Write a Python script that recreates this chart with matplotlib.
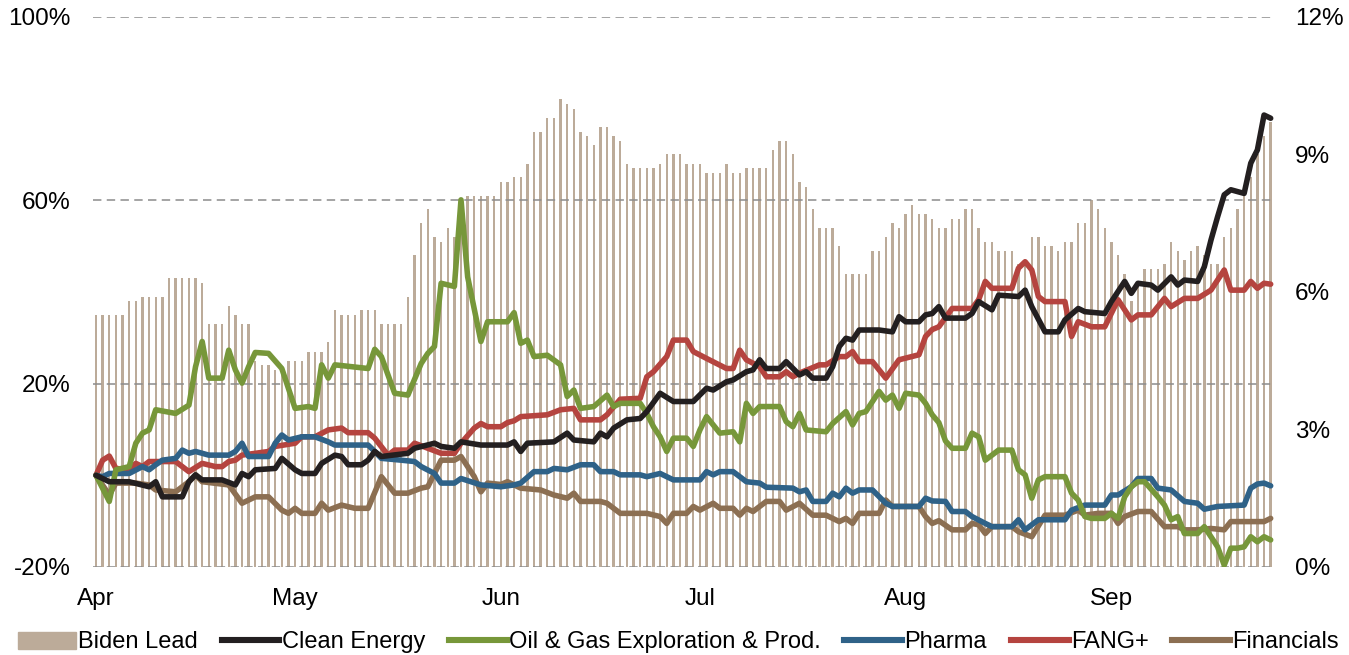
import matplotlib
matplotlib.use("Agg")
import matplotlib.pyplot as plt
import matplotlib.dates as mdates
from matplotlib.patches import Patch
from matplotlib.lines import Line2D
import pandas as pd

plt.rcParams["font.family"] = ["Liberation Sans", "DejaVu Sans"]

START = pd.Timestamp("2020-04-01")

# Biden lead in polls (right axis, %), one bar per calendar day from Apr 1
biden_lead = [
    5.5, 5.5, 5.5, 5.5, 5.5, 5.8, 5.8, 5.9, 5.9, 5.9, 5.9,
    6.3, 6.3, 6.3, 6.3, 6.3, 6.2, 5.3, 5.3, 5.3,
    5.7, 5.5, 5.3, 5.3, 4.5, 4.4, 4.4, 4.3, 4.3,
    4.5, 4.5, 4.5, 4.7, 4.7, 4.7,
    4.9, 5.6, 5.5, 5.5, 5.5, 5.6, 5.6, 5.6,
    5.3, 5.3, 5.3, 5.3,
    5.9, 6.8, 7.5, 7.8, 7.2, 7.1, 7.4, 7.2, 8.0,
    8.1, 8.1, 8.1, 8.1, 8.1, 8.4, 8.4, 8.5, 8.5, 8.8,
    9.5, 9.5, 9.8, 9.8, 10.2, 10.1, 10.0,
    9.5, 9.4, 9.2, 9.6, 9.6, 9.4, 9.3,
    8.8, 8.7, 8.7, 8.7, 8.7, 8.8,
    9.0, 9.0, 9.0, 8.8, 8.8, 8.8,
    8.6, 8.6, 8.6, 8.8, 8.6, 8.6,
    8.7, 8.7, 8.7, 8.7,
    9.1, 9.3, 9.3, 9.0, 8.4, 8.3, 7.8,
    7.4, 7.4, 7.4, 7.0, 6.4, 6.4, 6.4, 6.4,
    6.9, 6.9, 7.2, 7.5, 7.4, 7.7, 7.9,
    7.7, 7.7, 7.6, 7.4, 7.4, 7.6, 7.6,
    7.8, 7.8, 7.4, 7.1, 7.1, 6.9, 6.9, 6.9, 6.6, 6.6,
    7.2, 7.2, 7.0, 7.0, 6.9, 7.1, 7.1,
    7.5, 7.5, 8.0, 7.8, 7.4, 7.1, 6.8,
    6.4, 5.8, 6.1, 6.5, 6.5, 6.5, 6.6,
    7.1, 6.9, 6.7, 6.9, 7.0, 6.8, 6.6,
    6.6, 7.2, 7.4, 7.8, 8.1, 8.5, 9.0, 9.4, 9.7,
]

# Sector performance since Apr 1 (left axis, %): day offsets and values
clean_days = [0, 2, 5, 8, 9, 10, 13, 14, 15, 16, 19, 21, 22, 23, 24, 27, 28, 30, 31, 33,
              34, 36, 37, 38, 40, 41, 42, 43, 47, 48, 51, 52, 54, 55, 58, 62, 63, 64, 65, 69,
              71, 72, 75, 76, 77, 78, 80, 82, 83, 85, 87, 90, 92, 93, 95, 96, 98, 99, 100, 101,
              103, 104, 106, 107, 108, 110, 111, 112, 113, 114, 115, 118, 120, 121, 122, 124, 125, 126, 127, 128,
              131, 132, 133, 135, 136, 139, 140, 141, 143, 145, 146, 148, 149, 152, 153, 155, 156, 157, 159, 160,
              162, 163, 164, 166, 167, 168, 169, 170, 171, 173, 174, 175, 176, 177]
clean_vals = [0, -1.4, -1.4, -2.5, -1.4, -4.7, -4.7, -1.4, 0.1, -1.0, -1.0, -2.1, 0.4, -0.3, 1.2, 1.5, 3.7, 1.2, 0.4, 0.4,
              2.6, 4.4, 4.1, 2.3, 2.3, 3.3, 5.2, 4.1, 4.8, 5.9, 7.0, 6.3, 5.9, 7.3, 6.6, 6.6, 7.3, 5.2, 7.0, 7.3,
              9.2, 7.7, 7.3, 9.2, 8.4, 10.3, 12.1, 12.4, 13.9, 17.9, 16.1, 16.1, 19.0, 18.6, 20.4, 20.8, 22.6, 23.0, 25.2, 23.3,
              23.3, 24.8, 21.9, 22.6, 21.2, 21.2, 23.7, 28.1, 29.9, 29.5, 31.7, 31.7, 31.3, 34.6, 33.5, 33.5, 35.0, 35.3, 36.8, 34.3,
              34.3, 35.3, 37.9, 36.1, 39.3, 39.0, 40.4, 36.8, 31.3, 31.3, 33.9, 36.4, 35.7, 35.3, 37.9, 42.3, 39.7, 41.9, 41.5, 40.4,
              43.3, 41.5, 42.6, 42.3, 45.5, 51.3, 56.4, 61.2, 62.3, 61.5, 68.1, 71.0, 78.6, 77.9]

oil_days = [0, 2, 3, 5, 6, 7, 8, 9, 12, 14, 15, 16, 17, 19, 20, 21, 22, 23, 24, 26,
            28, 30, 32, 33, 34, 35, 36, 41, 42, 43, 45, 47, 49, 50, 51, 52, 54, 55, 56, 58,
            59, 62, 63, 64, 65, 66, 68, 70, 71, 72, 73, 75, 77, 78, 79, 82, 83, 84, 85, 86,
            87, 89, 90, 91, 92, 94, 96, 97, 98, 99, 100, 103, 104, 105, 106, 107, 110, 111, 113, 114,
            115, 116, 118, 119, 120, 121, 122, 124, 125, 126, 127, 128, 129, 131, 132, 133, 134, 136, 138, 139,
            140, 141, 142, 143, 146, 147, 148, 149, 150, 152, 153, 154, 155, 156, 157, 158, 160, 161, 162, 163,
            164, 166, 167, 169, 170, 171, 172, 173, 174, 175, 176, 177]
oil_vals = [0, -5.7, 1.2, 1.9, 7.0, 9.2, 9.9, 14.3, 13.5, 15.3, 23.7, 29.2, 21.2, 21.2, 27.3, 23.0, 20.1, 23.7, 26.8, 26.6,
            23.3, 14.6, 15.0, 14.6, 24.1, 21.2, 24.1, 23.3, 27.5, 25.9, 17.9, 17.5, 24.4, 26.6, 28.1, 41.9, 41.2, 60.1, 43.3, 29.2,
            33.5, 33.5, 35.5, 28.8, 29.5, 25.9, 26.2, 24.1, 17.2, 18.6, 14.6, 15.0, 17.5, 15.0, 15.7, 15.7, 13.5, 10.6, 8.4, 5.2,
            8.1, 8.1, 6.3, 9.9, 12.8, 9.2, 9.5, 7.3, 15.7, 13.5, 15.0, 15.0, 11.7, 10.6, 13.5, 9.9, 9.5, 11.3, 13.9, 11.0,
            13.5, 13.9, 18.3, 16.4, 17.5, 14.6, 17.9, 17.5, 15.7, 13.2, 11.5, 7.5, 5.9, 5.9, 9.2, 8.4, 3.3, 5.5, 5.5, 1.2,
            0.1, -5.0, -1.0, -0.3, -0.3, -3.9, -5.4, -9.0, -9.4, -9.4, -8.3, -9.4, -4.7, -2.5, -1.4, -1.4, -4.7, -6.5, -9.7, -9.0,
            -12.7, -12.7, -11.2, -15.6, -19.6, -15.9, -15.9, -15.6, -13.4, -14.5, -13.4, -14.1]

pharma_days = [0, 1, 2, 5, 7, 8, 9, 10, 12, 13, 14, 15, 17, 20, 21, 22, 23, 26, 27, 28,
               29, 31, 33, 35, 36, 41, 42, 43, 46, 48, 49, 51, 52, 54, 55, 58, 61, 63, 64, 66,
               68, 69, 71, 73, 75, 76, 78, 79, 82, 83, 85, 87, 91, 92, 93, 94, 96, 98, 100, 101,
               105, 106, 107, 108, 110, 111, 112, 113, 114, 115, 117, 119, 120, 124, 125, 126, 128, 129, 131, 132,
               134, 135, 138, 139, 140, 142, 146, 147, 149, 152, 153, 154, 156, 157, 159, 160, 162, 164, 166, 167,
               169, 173, 174, 175, 176, 177]
pharma_vals = [0, -0.3, 0.4, 0.4, 1.9, 1.2, 2.3, 3.3, 3.7, 5.5, 4.8, 5.2, 4.4, 4.4, 5.2, 7.0, 4.1, 4.1, 7.0, 8.8,
               7.7, 8.4, 8.4, 7.3, 6.6, 6.6, 5.2, 3.7, 3.3, 3.0, 1.9, 0.4, -1.7, -1.7, -0.7, -2.1, -2.5, -2.1, -1.7, 0.8,
               0.8, 1.5, 1.2, 2.3, 2.3, 0.8, 0.8, 0.1, 0.1, -0.3, 0.4, -1.0, -1.0, 0.8, 0.1, 0.8, 0.8, -1.4, -1.7, -2.6,
               -2.8, -3.6, -3.2, -5.7, -5.7, -3.9, -4.7, -2.8, -3.9, -3.2, -3.2, -6.1, -6.8, -6.8, -5.0, -5.6, -5.7, -7.9, -7.9, -9.0,
               -10.5, -11.2, -11.2, -9.7, -11.9, -9.7, -9.7, -7.6, -6.5, -6.5, -4.3, -4.3, -2.5, -0.7, -0.7, -2.8, -3.2, -5.7, -6.1, -7.4,
               -6.8, -6.5, -2.8, -1.9, -1.7, -2.3]

fang_days = [0, 1, 2, 3, 5, 6, 7, 8, 12, 14, 16, 18, 19, 20, 21, 22, 26, 27, 30, 31,
             33, 35, 37, 38, 41, 42, 44, 45, 47, 48, 50, 52, 54, 55, 57, 58, 59, 61, 62, 63,
             64, 68, 70, 72, 73, 76, 77, 79, 82, 83, 84, 86, 87, 89, 90, 92, 95, 96, 97, 98,
             100, 101, 103, 104, 105, 106, 109, 110, 112, 113, 114, 115, 117, 119, 121, 124, 125, 126, 127, 129,
             132, 133, 134, 135, 138, 139, 140, 141, 142, 143, 146, 147, 148, 150, 152, 154, 156, 157, 159, 161,
             162, 164, 166, 168, 169, 170, 171, 173, 174, 175, 176, 177]
fang_vals = [0, 3.3, 4.2, 1.5, 1.2, 2.6, 1.9, 3.0, 3.0, 0.8, 2.6, 1.9, 1.9, 3.0, 3.3, 4.4, 5.2, 6.3, 7.0, 8.4,
             8.4, 9.9, 10.3, 9.3, 9.3, 8.1, 4.4, 5.5, 5.5, 7.0, 5.9, 4.8, 4.8, 7.0, 10.3, 11.3, 10.6, 10.6, 11.5, 11.9,
             12.8, 13.2, 14.3, 14.6, 12.1, 12.1, 13.2, 16.6, 16.8, 21.5, 22.6, 25.9, 29.5, 29.5, 27.0, 25.5, 23.3, 23.3, 27.3, 25.2,
             23.7, 21.5, 21.5, 22.6, 21.5, 22.3, 24.1, 24.1, 25.9, 25.9, 27.0, 24.8, 24.8, 21.2, 25.2, 26.3, 30.3, 31.8, 32.4, 36.4,
             36.4, 38.3, 42.3, 40.8, 40.8, 45.2, 46.6, 44.8, 39.0, 37.9, 37.9, 30.3, 33.5, 32.4, 32.4, 38.3, 33.9, 35.0, 35.0, 38.6,
             36.8, 38.6, 38.6, 40.4, 42.6, 44.8, 40.4, 40.4, 42.3, 40.8, 41.9, 41.7]

fin_days = [0, 2, 3, 6, 8, 9, 12, 14, 15, 16, 20, 22, 24, 26, 28, 29, 30, 31, 33, 34,
            35, 37, 39, 41, 43, 45, 47, 49, 50, 52, 54, 55, 57, 58, 59, 61, 62, 64, 67, 69,
            71, 72, 73, 76, 77, 79, 83, 85, 86, 87, 89, 90, 91, 93, 94, 96, 97, 98, 99, 101,
            103, 104, 106, 108, 110, 112, 113, 114, 115, 118, 119, 120, 124, 125, 126, 127, 129, 131, 132, 133,
            134, 135, 138, 139, 141, 143, 146, 148, 149, 151, 153, 154, 155, 157, 159, 161, 163, 164, 166, 168,
            170, 171, 173, 176, 177]
fin_vals = [0, -4.3, -1.7, -1.7, -2.1, -3.2, -3.6, -1.4, 0.1, -1.4, -2.1, -6.1, -4.7, -4.7, -7.6, -8.3, -7.2, -8.3, -8.3, -6.1,
            -7.6, -6.5, -7.2, -7.2, -0.3, -3.9, -3.9, -2.8, -2.5, 3.3, 3.3, 4.1, -0.3, -3.6, -1.7, -2.0, -1.4, -2.8, -3.2, -4.3,
            -5.0, -3.9, -5.7, -5.7, -6.1, -8.3, -8.3, -9.0, -10.5, -8.3, -8.3, -6.8, -7.6, -6.1, -7.2, -7.2, -8.7, -7.2, -7.9, -5.7,
            -5.7, -7.6, -6.1, -8.7, -8.7, -10.1, -9.4, -10.5, -8.3, -8.3, -5.4, -6.8, -6.8, -9.0, -10.5, -9.9, -11.9, -11.9, -10.5, -10.8,
            -12.7, -11.2, -11.2, -12.3, -13.4, -8.7, -8.7, -7.6, -8.7, -8.3, -8.3, -10.5, -9.0, -7.9, -7.9, -11.2, -11.2, -11.9, -11.9, -11.6,
            -11.9, -10.1, -10.1, -10.1, -9.4]

left_ticks = [-20, 20, 60, 100]
right_ticks = [0, 3, 6, 9, 12]
month_ticks = ["2020-04-01", "2020-05-01", "2020-06-01", "2020-07-01", "2020-08-01", "2020-09-01"]

BAR_COLOR = "#bcab99"
series = [
    ("Clean Energy", clean_days, clean_vals, "#231f20"),
    ("Oil & Gas Exploration & Prod.", oil_days, oil_vals, "#77973a"),
    ("Pharma", pharma_days, pharma_vals, "#2f6288"),
    ("FANG+", fang_days, fang_vals, "#b5443f"),
    ("Financials", fin_days, fin_vals, "#8c6f52"),
]


def to_dates(days):
    return START + pd.to_timedelta(days, unit="D")


fig = plt.figure(figsize=(13.49, 6.55), dpi=100)
ax = fig.add_axes([0.0687, 0.1344, 0.8757, 0.8397])
ax2 = ax.twinx()
ax.set_zorder(ax2.get_zorder() + 1)
ax.patch.set_visible(False)

bar_dates = pd.date_range(START, periods=len(biden_lead), freq="D")
ax2.bar(bar_dates, biden_lead, width=0.36, color=BAR_COLOR, linewidth=0)

# draw order: black on top
for name, days, vals, color in reversed(series):
    ax.plot(to_dates(days), vals, color=color, lw=4.0, solid_joinstyle="round",
            solid_capstyle="round")

ax.set_ylim(-20, 100)
ax2.set_ylim(0, 12)
ax.set_yticks(left_ticks)
ax2.set_yticks(right_ticks)
ax.yaxis.set_major_formatter(plt.FuncFormatter(lambda v, p: f"{v:.0f}%"))
ax2.yaxis.set_major_formatter(plt.FuncFormatter(lambda v, p: f"{v:.0f}%"))
ax.grid(axis="y", color="#8c8c8c", lw=1.1, linestyle=(0, (5.5, 3.5)))

ax.set_xlim(START - pd.Timedelta(hours=12), bar_dates[-1] + pd.Timedelta(hours=12))
ax.set_xticks(pd.to_datetime(month_ticks))
ax.xaxis.set_major_formatter(mdates.DateFormatter("%b"))

for a in (ax, ax2):
    for s in a.spines.values():
        s.set_visible(False)
ax.tick_params(axis="both", length=0, labelsize=17.5, colors="black")
ax.tick_params(axis="y", pad=16)
ax.tick_params(axis="x", pad=15)
ax2.tick_params(axis="y", length=0, labelsize=17.5, pad=15)

handles = [Patch(color=BAR_COLOR, label="Biden Lead")]
for name, days, vals, color in series:
    handles.append(Line2D([], [], color=color, lw=4.4, label=name))
fig.legend(handles=handles, loc="lower center", bbox_to_anchor=(0.503, -0.03), ncol=6,
           frameon=False, fontsize=17, handlelength=2.45, handletextpad=0.1,
           columnspacing=1.0, handleheight=0.75)

fig.savefig("out.png", dpi=100)
